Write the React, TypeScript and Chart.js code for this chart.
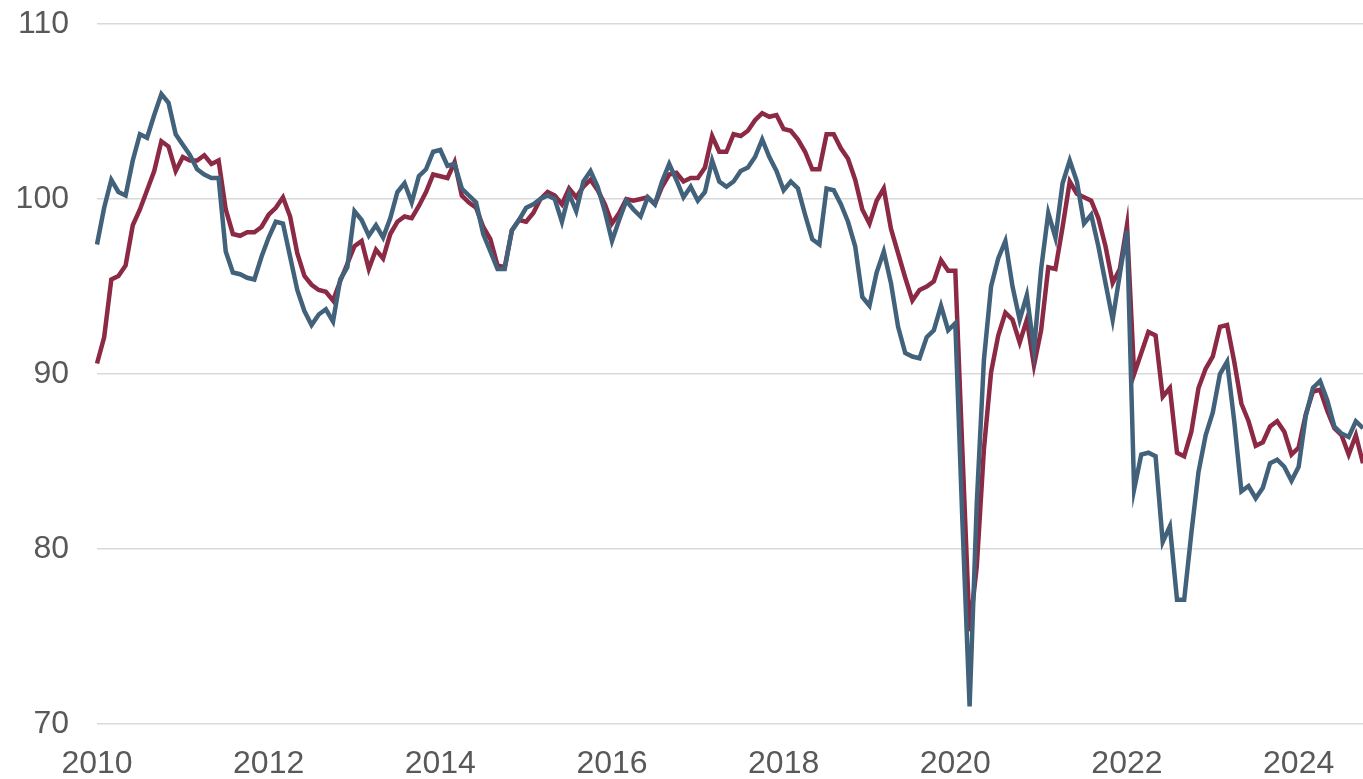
import React, { useEffect, useRef } from "react";
import { Chart, registerables } from "chart.js";

Chart.register(...registerables);

const startYear = 2010;
const monthCount = 178;
const months: string[] = [];
for (let i = 0; i < monthCount; i++) {
  const y = startYear + Math.floor(i / 12);
  const m = (i % 12) + 1;
  months.push(`${y}-${m < 10 ? "0" + m : m}`);
}

const xTickLabels = ["2010", "2012", "2014", "2016", "2018", "2020", "2022", "2024"];
const yTicks = [70, 80, 90, 100, 110];

const redSeries = [
  90.6, 92.1, 95.4, 95.6, 96.2, 98.5, 99.4, 100.5, 101.6, 103.3, 103.0, 101.6,
  102.4, 102.2, 102.2, 102.5, 102.0, 102.2, 99.4, 98.0, 97.9, 98.1, 98.1, 98.4,
  99.1, 99.5, 100.1, 99.0, 96.9, 95.6, 95.1, 94.8, 94.7, 94.2, 95.3, 96.3,
  97.3, 97.6, 96.0, 97.1, 96.6, 98.0, 98.7, 99.0, 98.9, 99.6, 100.4, 101.4,
  101.3, 101.2, 102.1, 100.2, 99.8, 99.5, 98.4, 97.7, 96.2, 96.1, 98.2, 98.8,
  98.7, 99.2, 100.0, 100.4, 100.2, 99.7, 100.6, 100.1, 100.7, 101.1, 100.5, 99.7,
  98.6, 99.2, 100.0, 99.9, 100.0, 100.1, 99.7, 100.7, 101.4, 101.5, 101.0, 101.2,
  101.2, 101.8, 103.6, 102.7, 102.7, 103.7, 103.6, 103.9, 104.5, 104.9, 104.7, 104.8,
  104.0, 103.9, 103.4, 102.7, 101.7, 101.7, 103.7, 103.7, 102.9, 102.3, 101.1, 99.4,
  98.6, 99.9, 100.6, 98.3, 96.9, 95.5, 94.2, 94.8, 95.0, 95.3, 96.5, 95.9,
  95.9, 85.5, 75.3, 79.0, 85.7, 90.1, 92.2, 93.5, 93.1, 91.8, 93.1, 90.5,
  92.5, 96.1, 96.0, 98.4, 101.0, 100.3, 100.1, 99.9, 98.9, 97.3, 95.2, 96.0,
  98.5, 90.0, 91.2, 92.4, 92.2, 88.7, 89.2, 85.5, 85.3, 86.7, 89.2, 90.3,
  91.0, 92.7, 92.8, 90.7, 88.3, 87.3, 85.9, 86.1, 87.0, 87.3, 86.7, 85.4,
  85.8, 87.7, 89.0, 89.1, 87.9, 86.9, 86.5, 85.4, 86.5, 84.9,
];

const blueSeries = [
  97.4, 99.5, 101.1, 100.4, 100.2, 102.2, 103.7, 103.5, 104.8, 106.0, 105.5, 103.7,
  103.1, 102.5, 101.7, 101.4, 101.2, 101.2, 97.0, 95.8, 95.7, 95.5, 95.4, 96.7,
  97.8, 98.7, 98.6, 96.7, 94.8, 93.6, 92.8, 93.4, 93.7, 93.0, 95.4, 96.1,
  99.3, 98.8, 97.9, 98.5, 97.8, 98.9, 100.4, 100.9, 99.8, 101.3, 101.7, 102.7,
  102.8, 101.9, 102.0, 100.6, 100.2, 99.8, 98.0, 97.0, 96.0, 96.0, 98.2, 98.8,
  99.5, 99.7, 100.0, 100.2, 100.0, 98.7, 100.3, 99.3, 101.0, 101.6, 100.7, 99.3,
  97.6, 98.8, 99.9, 99.4, 99.0, 100.1, 99.7, 101.0, 102.0, 101.1, 100.1, 100.7,
  99.9, 100.4, 102.2, 101.0, 100.7, 101.0, 101.6, 101.8, 102.4, 103.4, 102.4, 101.6,
  100.5, 101.0, 100.6, 99.1, 97.7, 97.4, 100.6, 100.5, 99.7, 98.7, 97.3, 94.4,
  93.9, 95.8, 97.0, 95.2, 92.7, 91.2, 91.0, 90.9, 92.1, 92.5, 93.9, 92.5,
  92.9, 81.5, 71.0, 82.6, 90.8, 95.0, 96.6, 97.6, 95.0, 93.1, 94.5, 91.4,
  96.0, 99.2, 97.8, 100.9, 102.2, 101.0, 98.6, 99.1, 97.3, 95.2, 93.1, 95.7,
  98.2, 83.4, 85.4, 85.5, 85.3, 80.4, 81.3, 77.1, 77.1, 80.9, 84.4, 86.5,
  87.8, 90.0, 90.7, 87.3, 83.3, 83.6, 82.9, 83.5, 84.9, 85.1, 84.7, 83.9,
  84.7, 87.6, 89.2, 89.6, 88.5, 87.0, 86.6, 86.4, 87.3, 86.9,
];

const RED = "#8c2944";
const BLUE = "#41627a";
const TEXT = "#595959";
const GRID = "#d9d9d9";
const FONT = "'Liberation Sans', Arial, sans-serif";

export default function App() {
  const ref = useRef<HTMLCanvasElement | null>(null);

  useEffect(() => {
    document.body.style.margin = "0";
    const canvas = ref.current;
    if (!canvas) return;
    const chart = new Chart(canvas, {
      type: "line",
      data: {
        labels: months,
        datasets: [
          {
            label: "Blue",
            data: blueSeries,
            borderColor: BLUE,
            backgroundColor: BLUE,
            borderWidth: 4.5,
            pointRadius: 0,
            tension: 0,
            fill: false,
          },
          {
            label: "Red",
            data: redSeries,
            borderColor: RED,
            backgroundColor: RED,
            borderWidth: 4.5,
            pointRadius: 0,
            tension: 0,
            fill: false,
          },
        ],
      },
      options: {
        responsive: false,
        animation: false,
        events: [],
        layout: { padding: { top: 24, left: 0, right: 0, bottom: 0 } },
        plugins: {
          legend: { display: false },
          tooltip: { enabled: false },
          title: { display: false },
        },
        scales: {
          x: {
            type: "category",
            offset: false,
            grid: { display: false, drawTicks: false },
            border: { display: false },
            ticks: {
              autoSkip: false,
              maxRotation: 0,
              minRotation: 0,
              padding: 20.5,
              color: TEXT,
              font: { family: FONT, size: 32, lineHeight: 1.2 },
              callback: (_v: any, i: number) => {
                const lab = months[i];
                if (!lab) return null;
                const [y, m] = lab.split("-");
                if (m === "01" && xTickLabels.includes(y)) return y;
                return null;
              },
            },
            afterFit: (scale: any) => {
              scale.height = 55;
              scale.paddingLeft = 0;
              scale.paddingRight = 0;
            },
          },
          y: {
            min: 70,
            max: 110,
            afterBuildTicks: (scale: any) => {
              scale.ticks = yTicks.map((v) => ({ value: v }));
            },
            grid: { color: GRID, lineWidth: 1.5, drawTicks: false },
            border: { display: false },
            ticks: {
              padding: 28,
              color: TEXT,
              font: { family: FONT, size: 32, lineHeight: 1.2 },
              callback: (v: any) => String(v),
            },
            afterFit: (scale: any) => {
              scale.width = 97;
              scale.paddingTop = 0;
              scale.paddingBottom = 0;
            },
          },
        },
      },
    });
    return () => chart.destroy();
  }, []);

  return (
    <div style={{ position: "fixed", left: 0, top: 0, width: 1363, height: 779, background: "#fff" }}>
      <canvas ref={ref} width={1363} height={779} style={{ display: "block" }} />
    </div>
  );
}
